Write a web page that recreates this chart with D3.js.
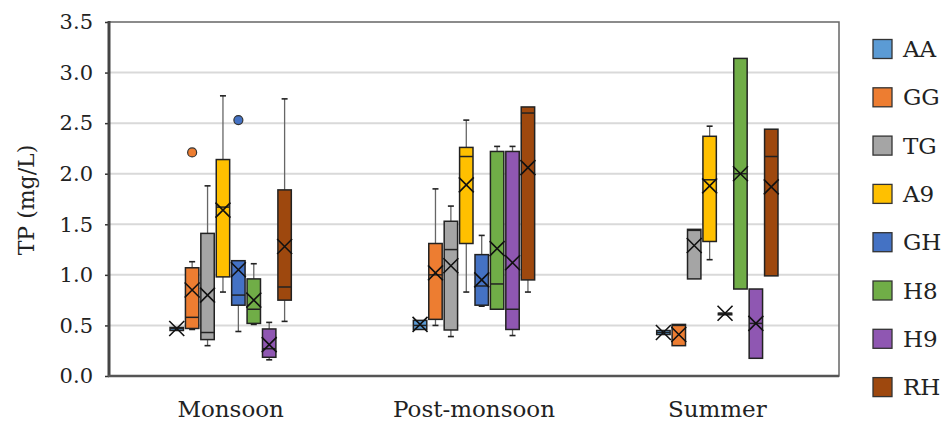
<!DOCTYPE html>
<html>
<head>
<meta charset="utf-8">
<script src="https://d3js.org/d3.v7.min.js"></script>
<style>
  body { margin: 0; background: #fff; }
  text { font-family: "DejaVu Serif", serif; fill: #222; }
</style>
</head>
<body>
<div id="chart"></div>
<script>
// Data, rows = sites, columns = seasons

var seasons = ["Monsoon", "Post-monsoon", "Summer"];
var sites = ["AA", "GG", "TG", "A9", "GH", "H8", "H9", "RH"];
var siteColors = ["#5b9bd5", "#ed7d31", "#a5a5a5", "#ffc000", "#4472c4", "#70ad47", "#8f57b2", "#9e480e"];
var yTicks = [0, 0.5, 1.0, 1.5, 2.0, 2.5, 3.0, 3.5];

var whiskerLow = [
  [0.45, 0.46, 0.41],
  [0.46, 0.50, 0.30],
  [0.30, 0.39, 0.96],
  [0.83, 0.83, 1.15],
  [0.44, 0.69, 0.62],
  [0.51, 0.66, 0.86],
  [0.16, 0.40, 0.175],
  [0.54, 0.83, 0.99]
];
var q1 = [
  [0.45, 0.46, 0.41],
  [0.47, 0.56, 0.30],
  [0.36, 0.455, 0.96],
  [0.98, 1.31, 1.33],
  [0.70, 0.70, 0.62],
  [0.52, 0.66, 0.86],
  [0.185, 0.46, 0.175],
  [0.75, 0.95, 0.99]
];
var median = [
  [0.47, 0.50, 0.43],
  [0.58, 1.00, 0.50],
  [0.43, 1.25, 1.44],
  [1.67, 2.17, 1.94],
  [0.80, 0.89, 0.62],
  [0.66, 0.91, 2.00],
  [0.27, 0.66, 0.52],
  [0.88, 2.60, 2.17]
];
var q3 = [
  [0.48, 0.55, 0.45],
  [1.07, 1.31, 0.51],
  [1.41, 1.53, 1.45],
  [2.14, 2.26, 2.37],
  [1.14, 1.20, 0.62],
  [0.96, 2.22, 3.14],
  [0.465, 2.22, 0.86],
  [1.84, 2.66, 2.44]
];
var whiskerHigh = [
  [0.48, 0.55, 0.45],
  [1.13, 1.85, 0.51],
  [1.88, 1.68, 1.45],
  [2.77, 2.53, 2.47],
  [1.14, 1.39, 0.62],
  [1.11, 2.27, 3.14],
  [0.53, 2.27, 0.86],
  [2.74, 2.66, 2.44]
];
var meanVals = [
  [0.47, 0.51, 0.43],
  [0.85, 1.02, 0.41],
  [0.80, 1.09, 1.29],
  [1.64, 1.89, 1.88],
  [1.05, 0.95, 0.62],
  [0.75, 1.26, 2.00],
  [0.31, 1.12, 0.52],
  [1.28, 2.06, 1.87]
];
var outlierSite = ["GG", "GH"];
var outlierSeason = ["Monsoon", "Monsoon"];
var outlierValue = [2.21, 2.53];

// SVG Dimensions

var svgWidth = 945;
var svgHeight = 425;

var margin = { top: 22, right: 106, bottom: 49, left: 109 };
var width = svgWidth - margin.left - margin.right;
var height = svgHeight - margin.top - margin.bottom;

var svg = d3.select("#chart")
  .append("svg")
  .attr("width", svgWidth)
  .attr("height", svgHeight);

var g = svg.append("g")
  .attr("transform", `translate(${margin.left}, ${margin.top})`);

// Scales
var x0 = d3.scaleBand()
  .domain(seasons)
  .range([0, width]);

var x1 = d3.scaleBand()
  .domain(sites)
  .range([0, x0.bandwidth()])
  .paddingInner(0.13)
  .paddingOuter(3.96);

var y = d3.scaleLinear()
  .domain([0, 3.5])
  .range([height, 0]);

// Gridlines
g.append("g")
  .selectAll("line")
  .data(yTicks.filter(d => d > 0 && d < 3.5))
  .enter()
  .append("line")
  .attr("x1", 0)
  .attr("x2", width)
  .attr("y1", d => y(d))
  .attr("y2", d => y(d))
  .attr("stroke", "#d9d9d9")
  .attr("stroke-width", 2);

// Plot frame
g.append("rect")
  .attr("x", 0)
  .attr("y", 0)
  .attr("width", width)
  .attr("height", height)
  .attr("fill", "none")
  .attr("stroke", "#666")
  .attr("stroke-width", 1.5);

// Flatten the table into one record per box
var boxes = [];
sites.forEach(function (site, i) {
  seasons.forEach(function (season, j) {
    boxes.push({
      site: site,
      season: season,
      color: siteColors[i],
      lo: whiskerLow[i][j],
      q1: q1[i][j],
      med: median[i][j],
      q3: q3[i][j],
      hi: whiskerHigh[i][j],
      mean: meanVals[i][j]
    });
  });
});

var bw = x1.bandwidth();
var cx = d => x0(d.season) + x1(d.site) + bw / 2;

var boxGroup = g.append("g");

// Whiskers
boxGroup.selectAll(".whisker-hi")
  .data(boxes.filter(d => d.hi > d.q3))
  .enter()
  .append("line")
  .attr("x1", cx).attr("x2", cx)
  .attr("y1", d => y(d.hi))
  .attr("y2", d => y(d.q3))
  .attr("stroke", "#666")
  .attr("stroke-width", 1.3);

boxGroup.selectAll(".whisker-lo")
  .data(boxes.filter(d => d.lo < d.q1))
  .enter()
  .append("line")
  .attr("x1", cx).attr("x2", cx)
  .attr("y1", d => y(d.q1))
  .attr("y2", d => y(d.lo))
  .attr("stroke", "#666")
  .attr("stroke-width", 1.3);

// Whisker caps
var caps = [];
boxes.forEach(function (d) {
  if (d.hi > d.q3) caps.push({ d: d, v: d.hi });
  if (d.lo < d.q1) caps.push({ d: d, v: d.lo });
});
boxGroup.selectAll(".cap")
  .data(caps)
  .enter()
  .append("line")
  .attr("x1", c => cx(c.d) - 3)
  .attr("x2", c => cx(c.d) + 3)
  .attr("y1", c => y(c.v))
  .attr("y2", c => y(c.v))
  .attr("stroke", "#222")
  .attr("stroke-width", 1.6);

// Boxes
boxGroup.selectAll(".box")
  .data(boxes)
  .enter()
  .append("rect")
  .attr("x", d => cx(d) - bw / 2)
  .attr("y", d => y(d.q3))
  .attr("width", bw)
  .attr("height", d => Math.max(y(d.q1) - y(d.q3), 1.5))
  .attr("fill", d => d.color)
  .attr("stroke", "#222")
  .attr("stroke-width", 1.5);

// Medians
boxGroup.selectAll(".median")
  .data(boxes)
  .enter()
  .append("line")
  .attr("x1", d => cx(d) - bw / 2)
  .attr("x2", d => cx(d) + bw / 2)
  .attr("y1", d => y(d.med))
  .attr("y2", d => y(d.med))
  .attr("stroke", "#222")
  .attr("stroke-width", 1.5);

// Mean markers (X)
var mk = 7.5;
var means = boxGroup.selectAll(".mean")
  .data(boxes)
  .enter()
  .append("path")
  .attr("d", d => `M${cx(d) - mk},${y(d.mean) - mk}L${cx(d) + mk},${y(d.mean) + mk}M${cx(d) - mk},${y(d.mean) + mk}L${cx(d) + mk},${y(d.mean) - mk}`)
  .attr("stroke", "#111")
  .attr("stroke-width", 1.6)
  .attr("fill", "none");

// Outliers
boxGroup.selectAll(".outlier")
  .data(outlierValue)
  .enter()
  .append("circle")
  .attr("cx", (v, i) => x0(outlierSeason[i]) + x1(outlierSite[i]) + bw / 2)
  .attr("cy", v => y(v))
  .attr("r", 4.5)
  .attr("fill", (v, i) => siteColors[sites.indexOf(outlierSite[i])])
  .attr("stroke", "#333")
  .attr("stroke-width", 1.2);

// Left axis
var leftAxis = d3.axisLeft(y)
  .tickValues(yTicks)
  .tickFormat(d3.format(".1f"))
  .tickSize(4)
  .tickPadding(12);

var yAxisG = g.append("g").call(leftAxis);
yAxisG.select(".domain").remove();
yAxisG.selectAll(".tick line").attr("stroke", "#333").attr("stroke-width", 1.5);
yAxisG.selectAll("text")
  .style("font-family", "DejaVu Serif, serif")
  .style("font-size", "21px")
  .attr("fill", "#222");

g.append("line")
  .attr("x1", 0).attr("x2", 0)
  .attr("y1", -1).attr("y2", height + 1)
  .attr("stroke", "#444")
  .attr("stroke-width", 3);

// Bottom axis
g.append("line")
  .attr("x1", -1).attr("x2", width)
  .attr("y1", height).attr("y2", height)
  .attr("stroke", "#555")
  .attr("stroke-width", 2.5);

g.append("g")
  .selectAll("text")
  .data(seasons)
  .enter()
  .append("text")
  .attr("x", d => x0(d) + x0.bandwidth() / 2)
  .attr("y", height + 41)
  .attr("text-anchor", "middle")
  .style("font-size", "23px")
  .text(d => d);

// Y label
g.append("text")
  .attr("transform", "rotate(-90)")
  .attr("x", -(y(1.74)))
  .attr("y", -margin.left + 34)
  .attr("text-anchor", "middle")
  .style("font-size", "22px")
  .text("TP (mg/L)");

// Legend
var legend = svg.append("g")
  .attr("transform", "translate(873, 49)");

var legendRows = legend.selectAll(".row")
  .data(sites)
  .enter()
  .append("g")
  .attr("transform", (d, i) => `translate(0, ${i * 48.3})`);

legendRows.append("rect")
  .attr("x", 0)
  .attr("y", -9.5)
  .attr("width", 19)
  .attr("height", 19)
  .attr("fill", (d, i) => siteColors[i])
  .attr("stroke", "#333")
  .attr("stroke-width", 1.3);

legendRows.append("text")
  .attr("x", 30)
  .attr("y", 8)
  .style("font-size", "23px")
  .text(d => d);
</script>
</body>
</html>
